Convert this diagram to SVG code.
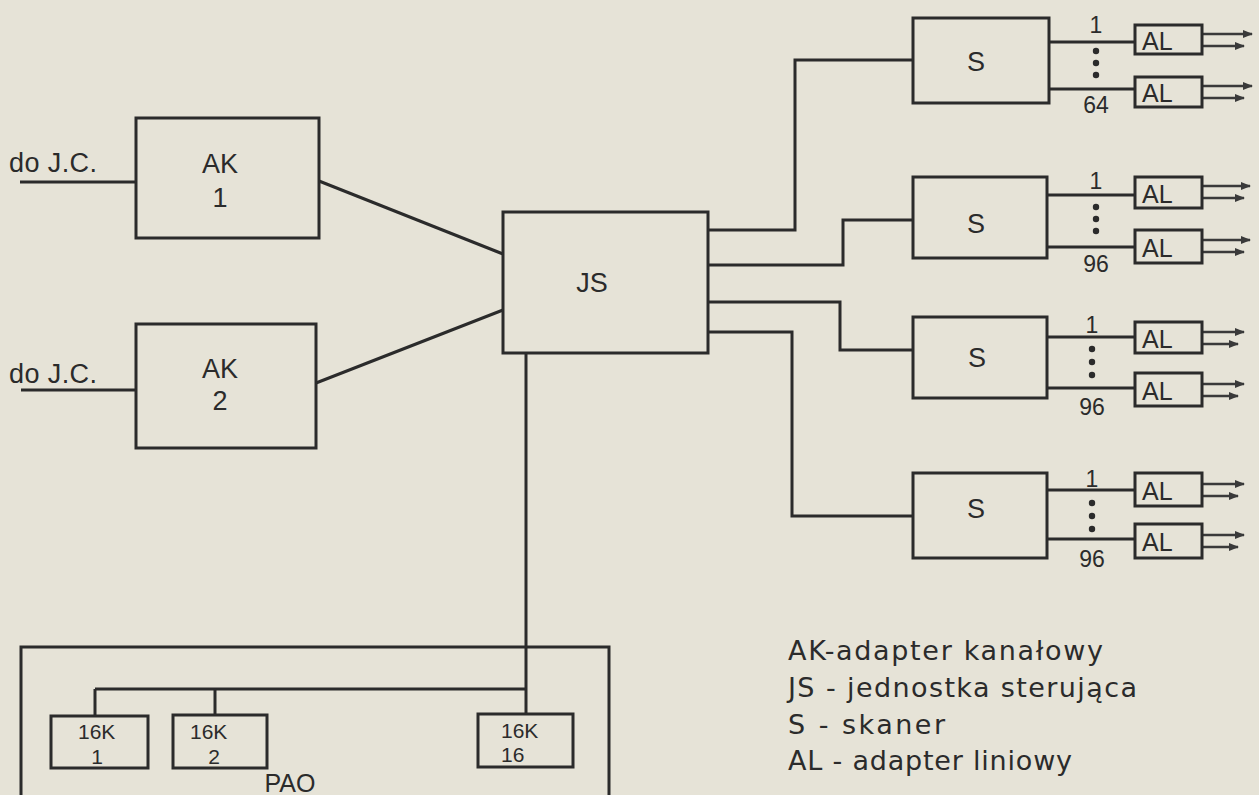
<svg xmlns="http://www.w3.org/2000/svg" width="1259" height="795" viewBox="0 0 1259 795">
<defs>
<style>
.bg{fill:#e6e3d7}
.box{fill:none;stroke:#2b2b2b;stroke-width:3}
.ln{fill:none;stroke:#2b2b2b;stroke-width:3}
.thin{fill:none;stroke:#3a3a3a;stroke-width:2.5}
.t{font-family:"Liberation Sans",Arial,sans-serif;fill:#2b2b2b}
.big{font-size:27px}
.mid{font-size:25px}
.sm{font-size:23px}
.xs{font-size:21px}
.leg{font-family:"DejaVu Sans","Liberation Sans",sans-serif;font-size:27px;fill:#2b2b2b}
.dot{fill:#2b2b2b}
</style>
<marker id="arR" viewBox="0 0 10 10" refX="9" refY="5" markerWidth="4" markerHeight="4" orient="auto" markerUnits="strokeWidth"><path d="M0,1 L10,5 L0,9 z" fill="#3a3a3a"/></marker>
</defs>
<rect class="bg" x="0" y="0" width="1259" height="795"/>

<g id="connectors">
<path class="ln" d="M20,182 H136"/>
<path class="ln" d="M21,390 H136"/>
<path class="ln" d="M319,181 L503,254"/>
<path class="ln" d="M316,383 L503,310"/>
<path class="ln" d="M708,230 H795 V60 H913"/>
<path class="ln" d="M708,265 H843 V220 H913"/>
<path class="ln" d="M708,302 H840 V350 H913"/>
<path class="ln" d="M708,332 H792 V516 H913"/>
<path class="ln" d="M526,353 V714"/>
<path class="ln" d="M95,689 H526"/>
<path class="ln" d="M95,689 V716"/>
<path class="ln" d="M215,689 V715"/>
<path class="ln" d="M1049,42 H1135"/>
<path class="ln" d="M1049,89 H1135"/>
<path class="ln" d="M1047,195 H1135"/>
<path class="ln" d="M1047,247 H1135"/>
<path class="ln" d="M1047,337 H1135"/>
<path class="ln" d="M1047,388 H1135"/>
<path class="ln" d="M1047,490 H1135"/>
<path class="ln" d="M1047,539 H1135"/>
<g id="line-arrows">
<path class="thin" d="M1202,34 H1252" marker-end="url(#arR)"/>
<path class="thin" d="M1202,46 H1244" marker-end="url(#arR)"/>
<path class="thin" d="M1202,86 H1252" marker-end="url(#arR)"/>
<path class="thin" d="M1202,98 H1244" marker-end="url(#arR)"/>
<path class="thin" d="M1202,186 H1250" marker-end="url(#arR)"/>
<path class="thin" d="M1202,198 H1244" marker-end="url(#arR)"/>
<path class="thin" d="M1202,240 H1250" marker-end="url(#arR)"/>
<path class="thin" d="M1202,252 H1244" marker-end="url(#arR)"/>
<path class="thin" d="M1202,332 H1244" marker-end="url(#arR)"/>
<path class="thin" d="M1202,344 H1238" marker-end="url(#arR)"/>
<path class="thin" d="M1202,384 H1244" marker-end="url(#arR)"/>
<path class="thin" d="M1202,396 H1238" marker-end="url(#arR)"/>
<path class="thin" d="M1202,484 H1244" marker-end="url(#arR)"/>
<path class="thin" d="M1202,496 H1238" marker-end="url(#arR)"/>
<path class="thin" d="M1202,535 H1244" marker-end="url(#arR)"/>
<path class="thin" d="M1202,547 H1238" marker-end="url(#arR)"/>
</g>
</g>

<g id="label-left">
<text class="t big" x="9" y="172" textLength="88" lengthAdjust="spacing">do J.C.</text>
<text class="t big" x="9" y="383" textLength="88" lengthAdjust="spacing">do J.C.</text>
</g>

<g id="AK1">
<rect class="box" x="136" y="118" width="183" height="120"/>
<text class="t big" x="220" y="173" text-anchor="middle">AK</text>
<text class="t big" x="220" y="207" text-anchor="middle">1</text>
</g>
<g id="AK2">
<rect class="box" x="136" y="324" width="180" height="124"/>
<text class="t big" x="220" y="378" text-anchor="middle">AK</text>
<text class="t big" x="220" y="410" text-anchor="middle">2</text>
</g>
<g id="JS">
<rect class="box" x="503" y="212" width="205" height="141"/>
<text class="t big" x="592" y="292" text-anchor="middle">JS</text>
</g>

<g id="S1">
<rect class="box" x="913" y="18" width="136" height="85"/>
<text class="t big" x="976" y="71" text-anchor="middle">S</text>
<text class="t sm" x="1096" y="33" text-anchor="middle">1</text>
<circle class="dot" cx="1096" cy="51" r="3.2"/><circle class="dot" cx="1096" cy="63" r="3.2"/><circle class="dot" cx="1096" cy="75" r="3.2"/>
<text class="t sm" x="1096" y="113" text-anchor="middle">64</text>
</g>
<g id="S2">
<rect class="box" x="913" y="177" width="134" height="81"/>
<text class="t big" x="976" y="233" text-anchor="middle">S</text>
<text class="t sm" x="1096" y="189" text-anchor="middle">1</text>
<circle class="dot" cx="1096" cy="207" r="3.2"/><circle class="dot" cx="1096" cy="219" r="3.2"/><circle class="dot" cx="1096" cy="231" r="3.2"/>
<text class="t sm" x="1096" y="272" text-anchor="middle">96</text>
</g>
<g id="S3">
<rect class="box" x="913" y="317" width="134" height="81"/>
<text class="t big" x="977" y="367" text-anchor="middle">S</text>
<text class="t sm" x="1092" y="333" text-anchor="middle">1</text>
<circle class="dot" cx="1092" cy="349" r="3.2"/><circle class="dot" cx="1092" cy="362" r="3.2"/><circle class="dot" cx="1092" cy="375" r="3.2"/>
<text class="t sm" x="1092" y="415" text-anchor="middle">96</text>
</g>
<g id="S4">
<rect class="box" x="913" y="473" width="134" height="85"/>
<text class="t big" x="976" y="518" text-anchor="middle">S</text>
<text class="t sm" x="1092" y="487" text-anchor="middle">1</text>
<circle class="dot" cx="1092" cy="503" r="3.2"/><circle class="dot" cx="1092" cy="516" r="3.2"/><circle class="dot" cx="1092" cy="529" r="3.2"/>
<text class="t sm" x="1092" y="567" text-anchor="middle">96</text>
</g>

<g id="AL-1-1"><rect class="box" x="1135" y="25" width="67" height="29"/><text class="t mid" x="1142" y="50">AL</text></g>
<g id="AL-1-2"><rect class="box" x="1135" y="77" width="67" height="30"/><text class="t mid" x="1142" y="102">AL</text></g>
<g id="AL-2-1"><rect class="box" x="1135" y="177" width="67" height="31"/><text class="t mid" x="1142" y="203">AL</text></g>
<g id="AL-2-2"><rect class="box" x="1135" y="230" width="67" height="33"/><text class="t mid" x="1142" y="257">AL</text></g>
<g id="AL-3-1"><rect class="box" x="1135" y="322" width="67" height="31"/><text class="t mid" x="1142" y="348">AL</text></g>
<g id="AL-3-2"><rect class="box" x="1135" y="373" width="67" height="33"/><text class="t mid" x="1142" y="400">AL</text></g>
<g id="AL-4-1"><rect class="box" x="1135" y="473" width="67" height="33"/><text class="t mid" x="1142" y="500">AL</text></g>
<g id="AL-4-2"><rect class="box" x="1135" y="524" width="67" height="34"/><text class="t mid" x="1142" y="551">AL</text></g>

<g id="PAO">
<path class="box" d="M21,800 V647 H609 V800"/>
<text class="t mid" x="290" y="792" text-anchor="middle">PAO</text>
</g>
<g id="M16K-1">
<rect class="box" x="51" y="716" width="97" height="52"/>
<text class="t xs" x="78" y="739">16K</text>
<text class="t xs" x="97" y="764" text-anchor="middle">1</text>
</g>
<g id="M16K-2">
<rect class="box" x="173" y="715" width="94" height="53"/>
<text class="t xs" x="190" y="739">16K</text>
<text class="t xs" x="214" y="764" text-anchor="middle">2</text>
</g>
<g id="M16K-16">
<rect class="box" x="478" y="714" width="95" height="53"/>
<text class="t xs" x="501" y="738">16K</text>
<text class="t xs" x="501" y="762">16</text>
</g>

<g id="legend">
<text class="leg" x="788" y="660" textLength="315" lengthAdjust="spacing">AK-adapter kanałowy</text>
<text class="leg" x="788" y="697" textLength="349" lengthAdjust="spacing">JS - jednostka sterująca</text>
<text class="leg" x="788" y="734" textLength="157" lengthAdjust="spacing">S  - skaner</text>
<text class="leg" x="788" y="770" textLength="284" lengthAdjust="spacing">AL - adapter liniowy</text>
</g>
</svg>
